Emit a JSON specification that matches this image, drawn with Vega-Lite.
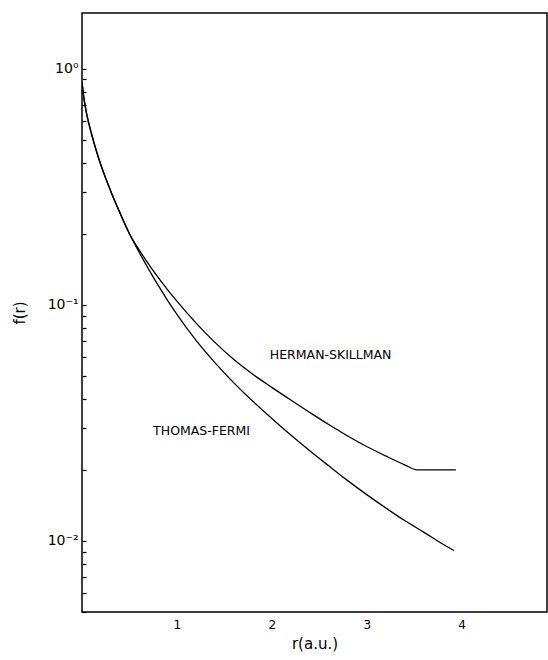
{
  "$schema": "https://vega.github.io/schema/vega-lite/v6.json",
  "width": 465,
  "height": 599,
  "autosize": {"type": "none"},
  "padding": {"left": 82, "top": 13, "right": 1, "bottom": 48},
  "background": "white",
  "config": {
    "view": {"stroke": "black", "strokeWidth": 1.5},
    "font": "DejaVu Sans"
  },
  "datasets": {
    "curves": [
      {"curve": "Thomas-Fermi", "r": 0.0, "f": 0.88},
      {"curve": "Thomas-Fermi", "r": 0.02, "f": 0.75},
      {"curve": "Thomas-Fermi", "r": 0.05, "f": 0.64},
      {"curve": "Thomas-Fermi", "r": 0.1, "f": 0.53},
      {"curve": "Thomas-Fermi", "r": 0.15, "f": 0.45},
      {"curve": "Thomas-Fermi", "r": 0.2, "f": 0.39},
      {"curve": "Thomas-Fermi", "r": 0.3, "f": 0.305},
      {"curve": "Thomas-Fermi", "r": 0.4, "f": 0.245},
      {"curve": "Thomas-Fermi", "r": 0.5, "f": 0.2},
      {"curve": "Thomas-Fermi", "r": 0.6, "f": 0.1676},
      {"curve": "Thomas-Fermi", "r": 0.7, "f": 0.142},
      {"curve": "Thomas-Fermi", "r": 0.8, "f": 0.1214},
      {"curve": "Thomas-Fermi", "r": 0.9, "f": 0.1047},
      {"curve": "Thomas-Fermi", "r": 1.0, "f": 0.091},
      {"curve": "Thomas-Fermi", "r": 1.2, "f": 0.0708},
      {"curve": "Thomas-Fermi", "r": 1.4, "f": 0.0569},
      {"curve": "Thomas-Fermi", "r": 1.6, "f": 0.0467},
      {"curve": "Thomas-Fermi", "r": 1.8, "f": 0.039},
      {"curve": "Thomas-Fermi", "r": 2.0, "f": 0.033},
      {"curve": "Thomas-Fermi", "r": 2.2, "f": 0.0281},
      {"curve": "Thomas-Fermi", "r": 2.4, "f": 0.0241},
      {"curve": "Thomas-Fermi", "r": 2.6, "f": 0.0208},
      {"curve": "Thomas-Fermi", "r": 2.8, "f": 0.018},
      {"curve": "Thomas-Fermi", "r": 3.0, "f": 0.0157},
      {"curve": "Thomas-Fermi", "r": 3.2, "f": 0.0138},
      {"curve": "Thomas-Fermi", "r": 3.4, "f": 0.0122},
      {"curve": "Thomas-Fermi", "r": 3.6, "f": 0.0109},
      {"curve": "Thomas-Fermi", "r": 3.8, "f": 0.0097},
      {"curve": "Thomas-Fermi", "r": 3.92, "f": 0.0091},
      {"curve": "Herman-Skillman", "r": 0.0, "f": 0.88},
      {"curve": "Herman-Skillman", "r": 0.02, "f": 0.75},
      {"curve": "Herman-Skillman", "r": 0.05, "f": 0.64},
      {"curve": "Herman-Skillman", "r": 0.1, "f": 0.53},
      {"curve": "Herman-Skillman", "r": 0.15, "f": 0.45},
      {"curve": "Herman-Skillman", "r": 0.2, "f": 0.39},
      {"curve": "Herman-Skillman", "r": 0.3, "f": 0.305},
      {"curve": "Herman-Skillman", "r": 0.4, "f": 0.245},
      {"curve": "Herman-Skillman", "r": 0.5, "f": 0.2},
      {"curve": "Herman-Skillman", "r": 0.6, "f": 0.1713},
      {"curve": "Herman-Skillman", "r": 0.7, "f": 0.149},
      {"curve": "Herman-Skillman", "r": 0.8, "f": 0.1308},
      {"curve": "Herman-Skillman", "r": 0.9, "f": 0.116},
      {"curve": "Herman-Skillman", "r": 1.0, "f": 0.1036},
      {"curve": "Herman-Skillman", "r": 1.2, "f": 0.0838},
      {"curve": "Herman-Skillman", "r": 1.4, "f": 0.0693},
      {"curve": "Herman-Skillman", "r": 1.6, "f": 0.0587},
      {"curve": "Herman-Skillman", "r": 1.8, "f": 0.0508},
      {"curve": "Herman-Skillman", "r": 2.0, "f": 0.0447},
      {"curve": "Herman-Skillman", "r": 2.2, "f": 0.0395},
      {"curve": "Herman-Skillman", "r": 2.4, "f": 0.035},
      {"curve": "Herman-Skillman", "r": 2.6, "f": 0.0311},
      {"curve": "Herman-Skillman", "r": 2.8, "f": 0.0278},
      {"curve": "Herman-Skillman", "r": 3.0, "f": 0.0251},
      {"curve": "Herman-Skillman", "r": 3.2, "f": 0.0229},
      {"curve": "Herman-Skillman", "r": 3.4, "f": 0.021},
      {"curve": "Herman-Skillman", "r": 3.53, "f": 0.02},
      {"curve": "Herman-Skillman", "r": 3.94, "f": 0.02}
    ],
    "labels": [
      {"label": "HERMAN-SKILLMAN", "r": 2.62, "f": 0.061},
      {"label": "THOMAS-FERMI", "r": 1.26, "f": 0.0292}
    ]
  },
  "layer": [
    {
      "data": {"name": "curves"},
      "mark": {"type": "line", "color": "black", "strokeWidth": 1.3, "interpolate": "monotone", "clip": true},
      "encoding": {
        "x": {
          "field": "r", "type": "quantitative",
          "scale": {"domain": [0, 4.9], "nice": false, "zero": false},
          "axis": {
            "title": "r(a.u.)", "values": [1, 2, 3, 4], "format": "d", "grid": false,
            "tickSize": 0, "domain": false,
            "labelFontSize": 12, "labelColor": "black", "labelPadding": 7,
            "titleFontSize": 15, "titleFontWeight": "normal", "titleColor": "black", "titlePadding": 6
          }
        },
        "y": {
          "field": "f", "type": "quantitative",
          "scale": {"type": "log", "domain": [0.005, 1.72], "nice": false},
          "axis": {
            "title": "f(r)",
            "values": [0.005, 0.006, 0.007, 0.008, 0.009, 0.01, 0.02, 0.03, 0.04, 0.05, 0.06, 0.07, 0.08, 0.09, 0.1, 0.2, 0.3, 0.4, 0.5, 0.6, 0.7, 0.8, 0.9, 1],
            "labelExpr": "datum.value == 1 ? '10⁰' : datum.value == 0.1 ? '10⁻¹' : datum.value == 0.01 ? '10⁻²' : ''",
            "grid": false, "offset": -4, "domain": false,
            "tickSize": 4, "tickColor": "black", "tickWidth": 1.2,
            "labelFontSize": 14, "labelColor": "black", "labelPadding": 4,
            "labelOverlap": false, "labelBound": false, "labelFlush": false,
            "titleFontSize": 15, "titleFontWeight": "normal", "titleColor": "black", "titlePadding": 20
          }
        },
        "detail": {"field": "curve"}
      }
    },
    {
      "data": {"name": "labels"},
      "mark": {"type": "text", "fontSize": 12.5, "color": "black", "align": "center", "baseline": "middle"},
      "encoding": {
        "x": {"field": "r", "type": "quantitative"},
        "y": {"field": "f", "type": "quantitative"},
        "text": {"field": "label"}
      }
    }
  ]
}
